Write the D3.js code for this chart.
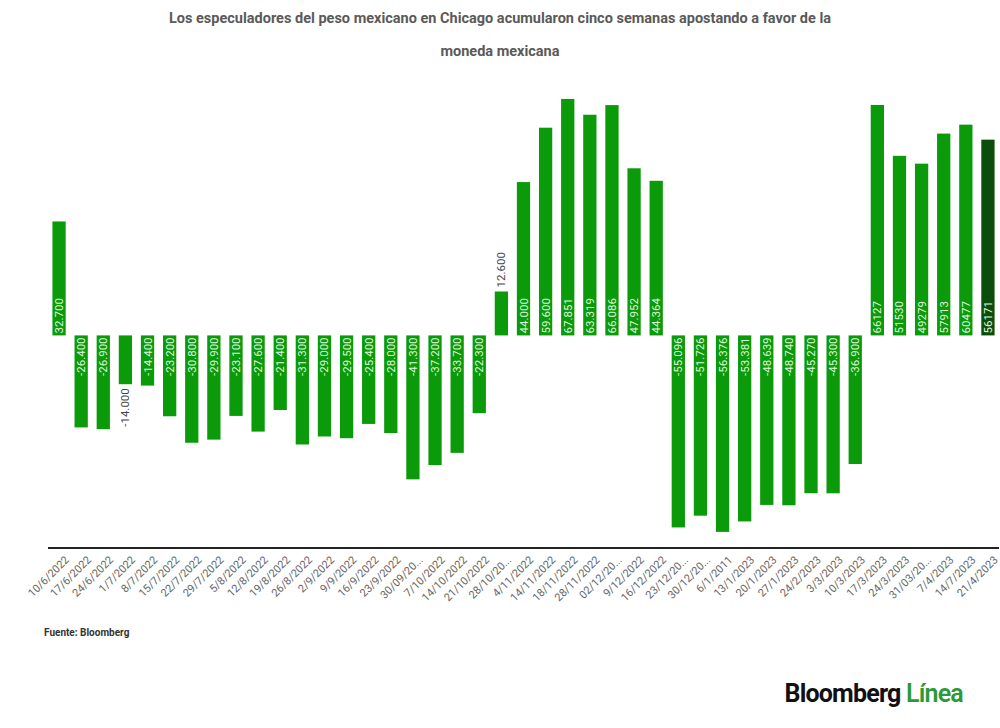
<!DOCTYPE html>
<html><head><meta charset="utf-8">
<script src="https://cdn.jsdelivr.net/npm/d3@7"></script>
<style>body{margin:0;background:#fff;font-family:Roboto,"Open Sans",sans-serif}</style>
</head><body><svg id="chart" width="1000" height="728"></svg>
<script>
const dates = ["10/6/2022","17/6/2022","24/6/2022","1/7/2022","8/7/2022","15/7/2022","22/7/2022","29/7/2022","5/8/2022","12/8/2022","19/8/2022","26/8/2022","2/9/2022","9/9/2022","16/9/2022","23/9/2022","30/09/20...","7/10/2022","14/10/2022","21/10/2022","28/10/20...","4/11/2022","14/11/2022","18/11/2022","28/11/2022","02/12/20...","9/12/2022","16/12/2022","23/12/20...","30/12/20...","6/1/2011","13/1/2023","20/1/2023","27/1/2023","24/2/2023","3/3/2023","10/3/2023","17/3/2023","24/3/2023","31/03/20...","7/4/2023","14/7/2023","21/4/2023"];
const values = [32700,-26400,-26900,-14000,-14400,-23200,-30800,-29900,-23100,-27600,-21400,-31300,-29000,-29500,-25400,-28000,-41300,-37200,-33700,-22300,12600,44000,59600,67851,63319,66086,47952,44364,-55096,-51726,-56376,-53381,-48639,-48740,-45270,-45300,-36900,66127,51530,49279,57913,60477,56171];
const labels = ["32.700","-26.400","-26.900","-14.000","-14.400","-23.200","-30.800","-29.900","-23.100","-27.600","-21.400","-31.300","-29.000","-29.500","-25.400","-28.000","-41.300","-37.200","-33.700","-22.300","12.600","44.000","59.600","67.851","63.319","66.086","47.952","44.364","-55.096","-51.726","-56.376","-53.381","-48.639","-48.740","-45.270","-45.300","-36.900","66127","51530","49279","57913","60477","56171"];

const svg = d3.select("#chart");
const x = d3.scaleBand().domain(dates).range([48, 999]).paddingInner(0.4).paddingOuter(0.2);
const y = d3.scaleLinear().domain([-61000, 73000]).range([548, 81]);

svg.append("text").attr("x", 500).attr("y", 23).attr("text-anchor", "middle")
  .attr("font-size", 14.5).attr("font-weight", 700).attr("fill", "#5a5a5a")
  .text("Los especuladores del peso mexicano en Chicago acumularon cinco semanas apostando a favor de la");
svg.append("text").attr("x", 500).attr("y", 56).attr("text-anchor", "middle")
  .attr("font-size", 14.5).attr("font-weight", 700).attr("fill", "#5a5a5a").text("moneda mexicana");

const data = dates.map((d, i) => ({d, v: values[i], l: labels[i], last: i === dates.length - 1}));

svg.selectAll("rect.bar").data(data).join("rect").attr("class", "bar")
  .attr("x", d => x(d.d)).attr("width", x.bandwidth())
  .attr("y", d => y(Math.max(0, d.v))).attr("height", d => Math.abs(y(d.v) - y(0)))
  .attr("fill", d => d.last ? "#0b4d0b" : "#0a9a0a");

svg.selectAll("text.val").data(data).join("text").attr("class", "val")
  .attr("font-size", 11.5).attr("dominant-baseline", "central")
  .attr("transform", d => {
    const cx = x(d.d) + x.bandwidth() / 2;
    const inside = Math.abs(y(d.v) - y(0)) > 49.5;
    let ty, anchor;
    if (d.v > 0) { ty = inside ? y(0) - 2 : y(d.v) - 4; anchor = "start"; }
    else { ty = inside ? y(0) + 2 : y(d.v) + 4; anchor = "end"; }
    d.anchor = anchor; d.inside = inside;
    return `translate(${cx},${ty}) rotate(-90)`;
  })
  .attr("text-anchor", d => d.anchor)
  .attr("fill", d => d.inside ? "#dff5df" : "#444")
  .text(d => d.l);

const ax = svg.append("g").attr("transform", "translate(0,548)")
  .call(d3.axisBottom(x).tickSize(0).tickPadding(6));
ax.select(".domain").attr("stroke", "#222").attr("stroke-width", 2).attr("d", "M48,0H999");
ax.selectAll("text").attr("font-size", 11).attr("fill", "#666").attr("font-family", "Roboto,sans-serif")
  .attr("text-anchor", "end").attr("dy", "0.3em")
  .attr("transform", "translate(4,6) rotate(-45)");

svg.append("text").attr("x", 44).attr("y", 636).attr("font-size", 10).attr("font-weight", 700)
  .attr("fill", "#333").text("Fuente: Bloomberg");

const logo = svg.append("text").attr("x", 963).attr("y", 702).attr("text-anchor", "end")
  .attr("font-size", 25).attr("font-weight", 700).attr("letter-spacing", -0.8);
logo.append("tspan").attr("fill", "#111").text("Bloomberg ");
logo.append("tspan").attr("fill", "#2a9a3a").attr("font-weight", 600).text("Línea");
</script></body></html>
